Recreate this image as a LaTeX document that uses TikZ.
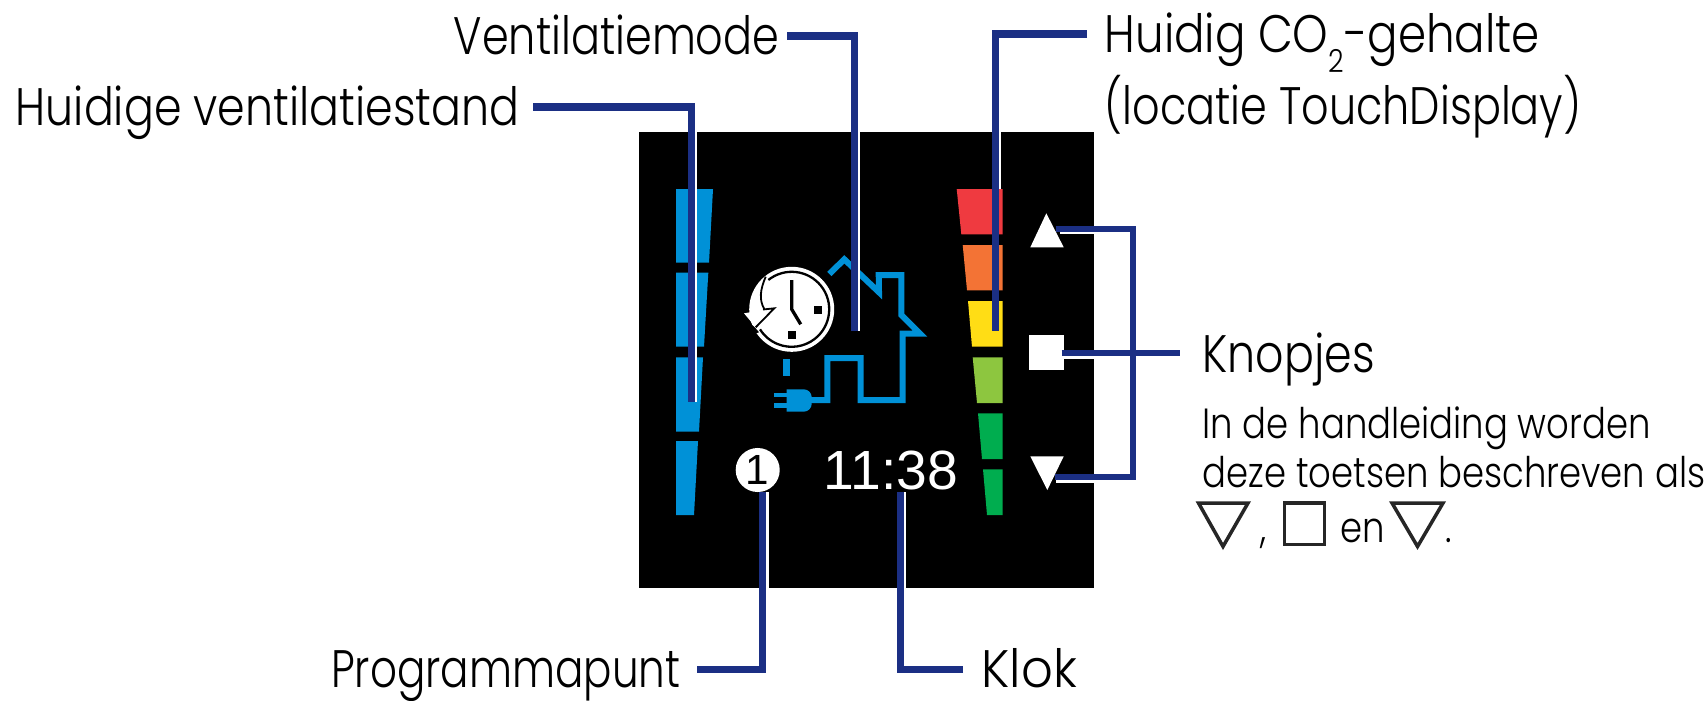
\documentclass[tikz,border=0pt]{standalone}
\usepackage{fontspec}
\setmainfont{Poppins}[UprightFont=* Light,FakeStretch=0.84]
\newfontfamily\lcdfont{Liberation Sans}
\usepackage{tikz}

\definecolor{leadblue}{HTML}{1B2F84}
\definecolor{barblue}{HTML}{0091D7}
\definecolor{cored}{HTML}{EF3A40}
\definecolor{coorange}{HTML}{F37335}
\definecolor{coyellow}{HTML}{FFDD15}
\definecolor{colime}{HTML}{8DC63F}
\definecolor{cogreen}{HTML}{00AD4F}

\tikzset{
  lbl/.style={inner ysep=0pt, text height=.4cm, text depth=.04cm, font=\fontsize{15}{18}\selectfont},
  sublbl/.style={inner sep=0pt, anchor=base west, font=\fontsize{12}{15}\selectfont},
  leader/.style={leadblue, line width=.07cm},
  halo/.style={white, line width=.028cm},
  housepath/.style={barblue, line width=.06cm, miter limit=10},
  symline/.style={black!85, line width=.035cm, miter limit=10}
}

\begin{document}
\begin{tikzpicture}[x=.01cm, y=-.01cm]
	\useasboundingbox (0,0) rectangle (1707,700);
	%Scherm
	\fill[black] (639,132) rectangle (1094,588);
	%Ventilatiestand
	\foreach \ytop/\ybot/\xtop/\xbot in {189/262.7/713/709, 272.7/346.7/708.3/704, 357.3/431.7/703/699, 441/515/698/694}
		\fill[barblue] (676,\ytop)--(\xtop,\ytop)--(\xbot,\ybot)--(676,\ybot)--cycle;
	%CO2
	\foreach \ytop/\ybot/\xtop/\xbot/\col in {189/234.3/956.7/961.3/cored, 245/290.3/962.7/967/coorange, 301/346.7/968/972/coyellow, 357.3/403/972.7/977/colime, 413.3/459/978/982/cogreen, 469.3/515/983/987/cogreen}
		\fill[\col] (\xtop,\ytop)--(1002.7,\ytop)--(1002.7,\ybot)--(\xbot,\ybot)--cycle;
	%Knopjes
	\fill[white] (1046.3,213.3)--(1063.7,247.3)--(1030.3,247.3)--cycle;
	\fill[white] (1029,335) rectangle (1064,370);
	\fill[white] (1030.3,456.3)--(1063.7,456.3)--(1047.3,490)--cycle;
	%Huis
	\draw[housepath] (829.3,274)--(844.3,259.3)--(879,292.3)--(878.7,275)--(901.3,275)--(901.3,315)--(920,333.7)--(902.7,333.7)--(902.7,400)--(860.7,400)--(860.7,358)--(827.3,358)--(827.3,400)--(810,400);
	%Stekker
	\fill[barblue] (786.7,389.3) [rounded corners=.08cm] --(811.7,389.3)--(811.7,411.7) [sharp corners] --(786.7,411.7)--cycle;
	\fill[barblue] (774,392.7) rectangle (786.7,397.3);
	\fill[barblue] (774,403.3) rectangle (786.7,408);
	\fill[barblue] (783,359) rectangle (790,376);
	%Klokje
	\fill[white] (791.7,309.3) circle (42.5);
	\draw[black, line width=.023cm] (791.7,309.3) ++(-128.5:37.5) arc (-128.5:147.7:37.5);
	\draw[black, line width=.018cm] (765.7,276.7) .. controls (760,290) and (759,300) .. (764.3,309);
	\fill[black] (745,318.3)--(755.7,328.3)--(759,332.3)--(750,335)--(740,325)--cycle;
	\fill[white] (744,313.3)--(774.3,308.3)--(755.7,327.3)--cycle;
	\draw[black, line width=.018cm] (763,309.5)--(774.3,308.3)--(755.7,327.3);
	\draw[black, line width=.033cm] (791.7,280)--(791.7,309.3)--(800.7,324.3);
	\fill[black] (814,306) rectangle (822,314);
	\fill[black] (787.7,331) rectangle (795.7,339);
	%Programmapunt en tijd
	\node[circle, fill=white, minimum size=.44cm, inner sep=0pt, font=\lcdfont\fontsize{12}{14}\selectfont] (punt) at (757.7,470) {1};
	\node[white, inner sep=0pt, font=\lcdfont\fontsize{15.7}{18}\selectfont] (tijd) at (891,470) {11:38};
	%Teksten
	\node[lbl, anchor=east, inner xsep=.13cm] (stand) at (533,107) {Huidige ventilatiestand};
	\node[lbl, anchor=east, inner xsep=.07cm] (mode) at (787,36) {\scalebox{.97}[1]{Ventilatiemode}};
	\node[lbl, anchor=west, inner xsep=.17cm] (co) at (1087,34) {\scalebox{1.02}[1]{Huidig CO\raisebox{-.2cm}{\fontsize{9}{9}\selectfont 2}-gehalte}};
	\node[lbl, anchor=west, inner xsep=.17cm] (locatie) at (1087,106) {\scalebox{.97}[1]{(locatie TouchDisplay)}};
	\node[lbl, anchor=east, inner xsep=.16cm] (prog) at (697,669.5) {\scalebox{.95}[1]{Programmapunt}};
	\node[lbl, anchor=west, inner xsep=.18cm] (klok) at (963,669.5) {\scalebox{1.12}[1]{Klok}};
	\node[lbl, anchor=west, inner xsep=.22cm, text depth=0pt] (knop) at (1180,352.7) {Knopjes};
	\node[sublbl] (hand) at (1202,438) {In de handleiding worden};
	\node[sublbl] (deze) at (1202,487.5) {deze toetsen beschreven als};
	\node[sublbl] (komma) at (1260,542.5) {,};
	\node[sublbl] (en) at (1339.5,542.5) {en};
	\node[sublbl] (stip) at (1445,542.5) {.};
	%Symbolen
	\draw[symline] (1198.5,503)--(1248,503)--(1223,546.5)--cycle;
	\draw[symline] (1284.5,503) rectangle (1324.5,544.5);
	\draw[symline] (1392,503)--(1443,503)--(1417.5,546.5)--cycle;
	%Lijnen
	\coordinate (standend) at (691,401.7);
	\coordinate (modeend) at (854,330.7);
	\coordinate (coend) at (995.5,331);
	\coordinate (progend) at (762.5,492.3);
	\coordinate (klokend) at (900,492.3);
	\coordinate (btnup) at (1055.7,229);
	\coordinate (btnmid) at (1061.7,352.7);
	\coordinate (btndown) at (1055,476.7);
	\coordinate (bracemid) at (1133,352.7);
	\draw[halo] (696,132)--(696,401.7);
	\draw[halo] (858.7,132)--(858.7,330.7);
	\draw[halo] (999.7,132)--(999.7,189);
	\draw[halo] (767.2,492.3)--(767.2,588);
	\draw[halo] (904.5,492.3)--(904.5,588);
	\draw[halo] (1060,233)--(1094,233);
	\draw[halo] (1064,357.4)--(1094,357.4);
	\draw[halo] (1056,481.7)--(1094,481.7);
	\draw[leader] (stand.east) -| (standend);
	\draw[leader] (mode.east) -| (modeend);
	\draw[leader] (co.west) -| (coend);
	\draw[leader] (prog.east) -| (progend);
	\draw[leader] (klok.west) -| (klokend);
	\draw[leader, line width=.06cm] (btnup) -| (bracemid) |- (btndown);
	\draw[leader, line width=.06cm] (btnmid) -- (knop.west);
\end{tikzpicture}
\end{document}
